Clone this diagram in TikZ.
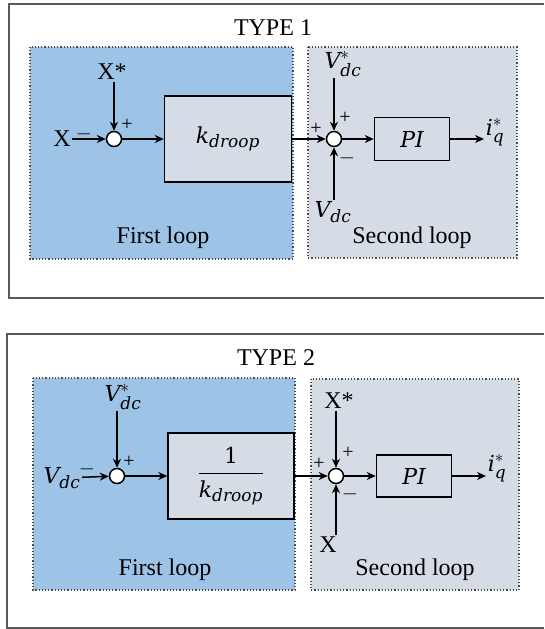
\documentclass[tikz,border=0pt]{standalone}
\usepackage{amsmath}
\usepackage{fontspec}
\setmainfont{Liberation Serif}
\newfontfamily\mathlike{DejaVu Serif}
\usetikzlibrary{arrows.meta}
\definecolor{loopblue}{HTML}{9DC3E6}
\definecolor{loopgrey}{HTML}{D6DCE5}
\newcommand{\mi}[1]{\mbox{\fontsize{22}{25}\selectfont\mathlike\itshape #1}}
\newcommand{\msub}[1]{\mbox{\fontsize{17}{19}\selectfont\mathlike\itshape #1}}

\begin{document}
\begin{tikzpicture}[x=1pt,y=-1pt,line width=1.5pt,
	>={Stealth[length=9pt,width=8pt]},
	panel/.style={draw=black!65,line width=2pt},
	loopbox/.style={draw=black!70,line width=1.2pt,dotted},
	block/.style={draw,fill=loopgrey,line width=1.5pt,font=\fontsize{24}{28}\selectfont},
	sumpt/.style={circle,draw,fill=white,minimum size=15pt,inner sep=0pt,line width=1.5pt},
	lbl/.style={font=\fontsize{24}{28}\selectfont,inner sep=1pt},
	sgn/.style={font=\fontsize{20}{22}\selectfont,inner sep=0pt}]
	\useasboundingbox (0,0) rectangle (544,629);

	%TYPE 1 PANEL
	\draw[panel] (544,4)--(9,4)--(9,298)--(544,298);
	\node[lbl] (type1) at (273,28) {TYPE 1};
	\draw[loopbox,fill=loopblue] (30,47) rectangle (293,259);
	\draw[loopbox,fill=loopgrey] (308,47) rectangle (517,258);
		\node[lbl] (first1) at (163,238) {First loop};
		\node[lbl] (second1) at (412,238) {Second loop};
	%
	\node[lbl] (xin1) at (62,139) {X};
	\node[lbl] (xref1) at (112,72) {X*};
	\node[sumpt] (sumA1) at (114,139) {};
	\node[block,minimum width=127pt,minimum height=86pt] (kd1) at (228,139) {$\mi{k}_{\msub{droop}}$};
	\node[sumpt] (sumB1) at (334,139) {};
	\node[lbl] (vref1) at (343,64) {$\mi{V}_{\msub{dc}}^{*}$};
	\node[lbl] (vmeas1) at (333,212) {$\mi{V}_{\msub{dc}}$};
	\node[block,minimum width=75pt,minimum height=43pt] (pi1) at (412,139) {\mi{PI}};
	\node[lbl,anchor=west] (iq1) at (484,132) {$\mi{i}_{\msub{q}}^{*}$};
	%
	\draw[->] (xin1)--(sumA1);
	\draw[->] (sumA1 |- xref1.south)--(sumA1);
	\draw[->] (sumA1)--(kd1);
	\draw[->] (kd1)--(sumB1);
	\draw[->] (sumB1 |- vref1.south)--(sumB1);
	\draw[->] (sumB1 |- vmeas1.north)--(sumB1);
	\draw[->] (sumB1)--(pi1);
	\draw[->] (pi1)--(pi1 -| iq1.west);
	%
	\node[sgn] (mA1) at (84,134) {$-$};
	\node[sgn] (pA1) at (127,125) {+};
	\node[sgn] (pB1) at (316,129) {+};
	\node[sgn] (pC1) at (345,118) {+};
	\node[sgn] (mB1) at (347,158) {$-$};

	%TYPE 2 PANEL
	\draw[panel] (544,334)--(7,334)--(7,628)--(544,628);
	\node[lbl] (type2) at (276,358) {TYPE 2};
	\draw[loopbox,fill=loopblue] (33,378) rectangle (295,590);
	\draw[loopbox,fill=loopgrey] (311,379) rectangle (519,590);
		\node[lbl] (first2) at (165,570) {First loop};
		\node[lbl] (second2) at (415,570) {Second loop};
	%
	\node[lbl] (vin2) at (62,478) {$\mi{V}_{\msub{dc}}$};
	\node[lbl] (vref2) at (123,397) {$\mi{V}_{\msub{dc}}^{*}$};
	\node[sumpt] (sumA2) at (117,476) {};
	\node[block,minimum width=126pt,minimum height=86pt] (kd2) at (231,476) {$\dfrac{\mbox{\fontsize{22}{25}\selectfont\mathlike 1}}{\mi{k}_{\msub{droop}}}$};
	\node[sumpt] (sumB2) at (336,476) {};
	\node[lbl] (xref2) at (339,401) {X*};
	\node[lbl] (xmeas2) at (328,545) {X};
	\node[block,minimum width=75pt,minimum height=42pt] (pi2) at (414,476) {\mi{PI}};
	\node[lbl,anchor=west] (iq2) at (486,468) {$\mi{i}_{\msub{q}}^{*}$};
	%
	\draw[->] (vin2)--(sumA2);
	\draw[->] (sumA2 |- vref2.south)--(sumA2);
	\draw[->] (sumA2)--(kd2);
	\draw[->] (kd2)--(sumB2);
	\draw[->] (sumB2 |- xref2.south)--(sumB2);
	\draw[->] (sumB2 |- xmeas2.north)--(sumB2);
	\draw[->] (sumB2)--(pi2);
	\draw[->] (pi2)--(pi2 -| iq2.west);
	%
	\node[sgn] (mA2) at (87,469) {$-$};
	\node[sgn] (pA2) at (129,462) {+};
	\node[sgn] (pB2) at (319,464) {+};
	\node[sgn] (pC2) at (348,453) {+};
	\node[sgn] (mB2) at (350,494) {$-$};
\end{tikzpicture}
\end{document}
